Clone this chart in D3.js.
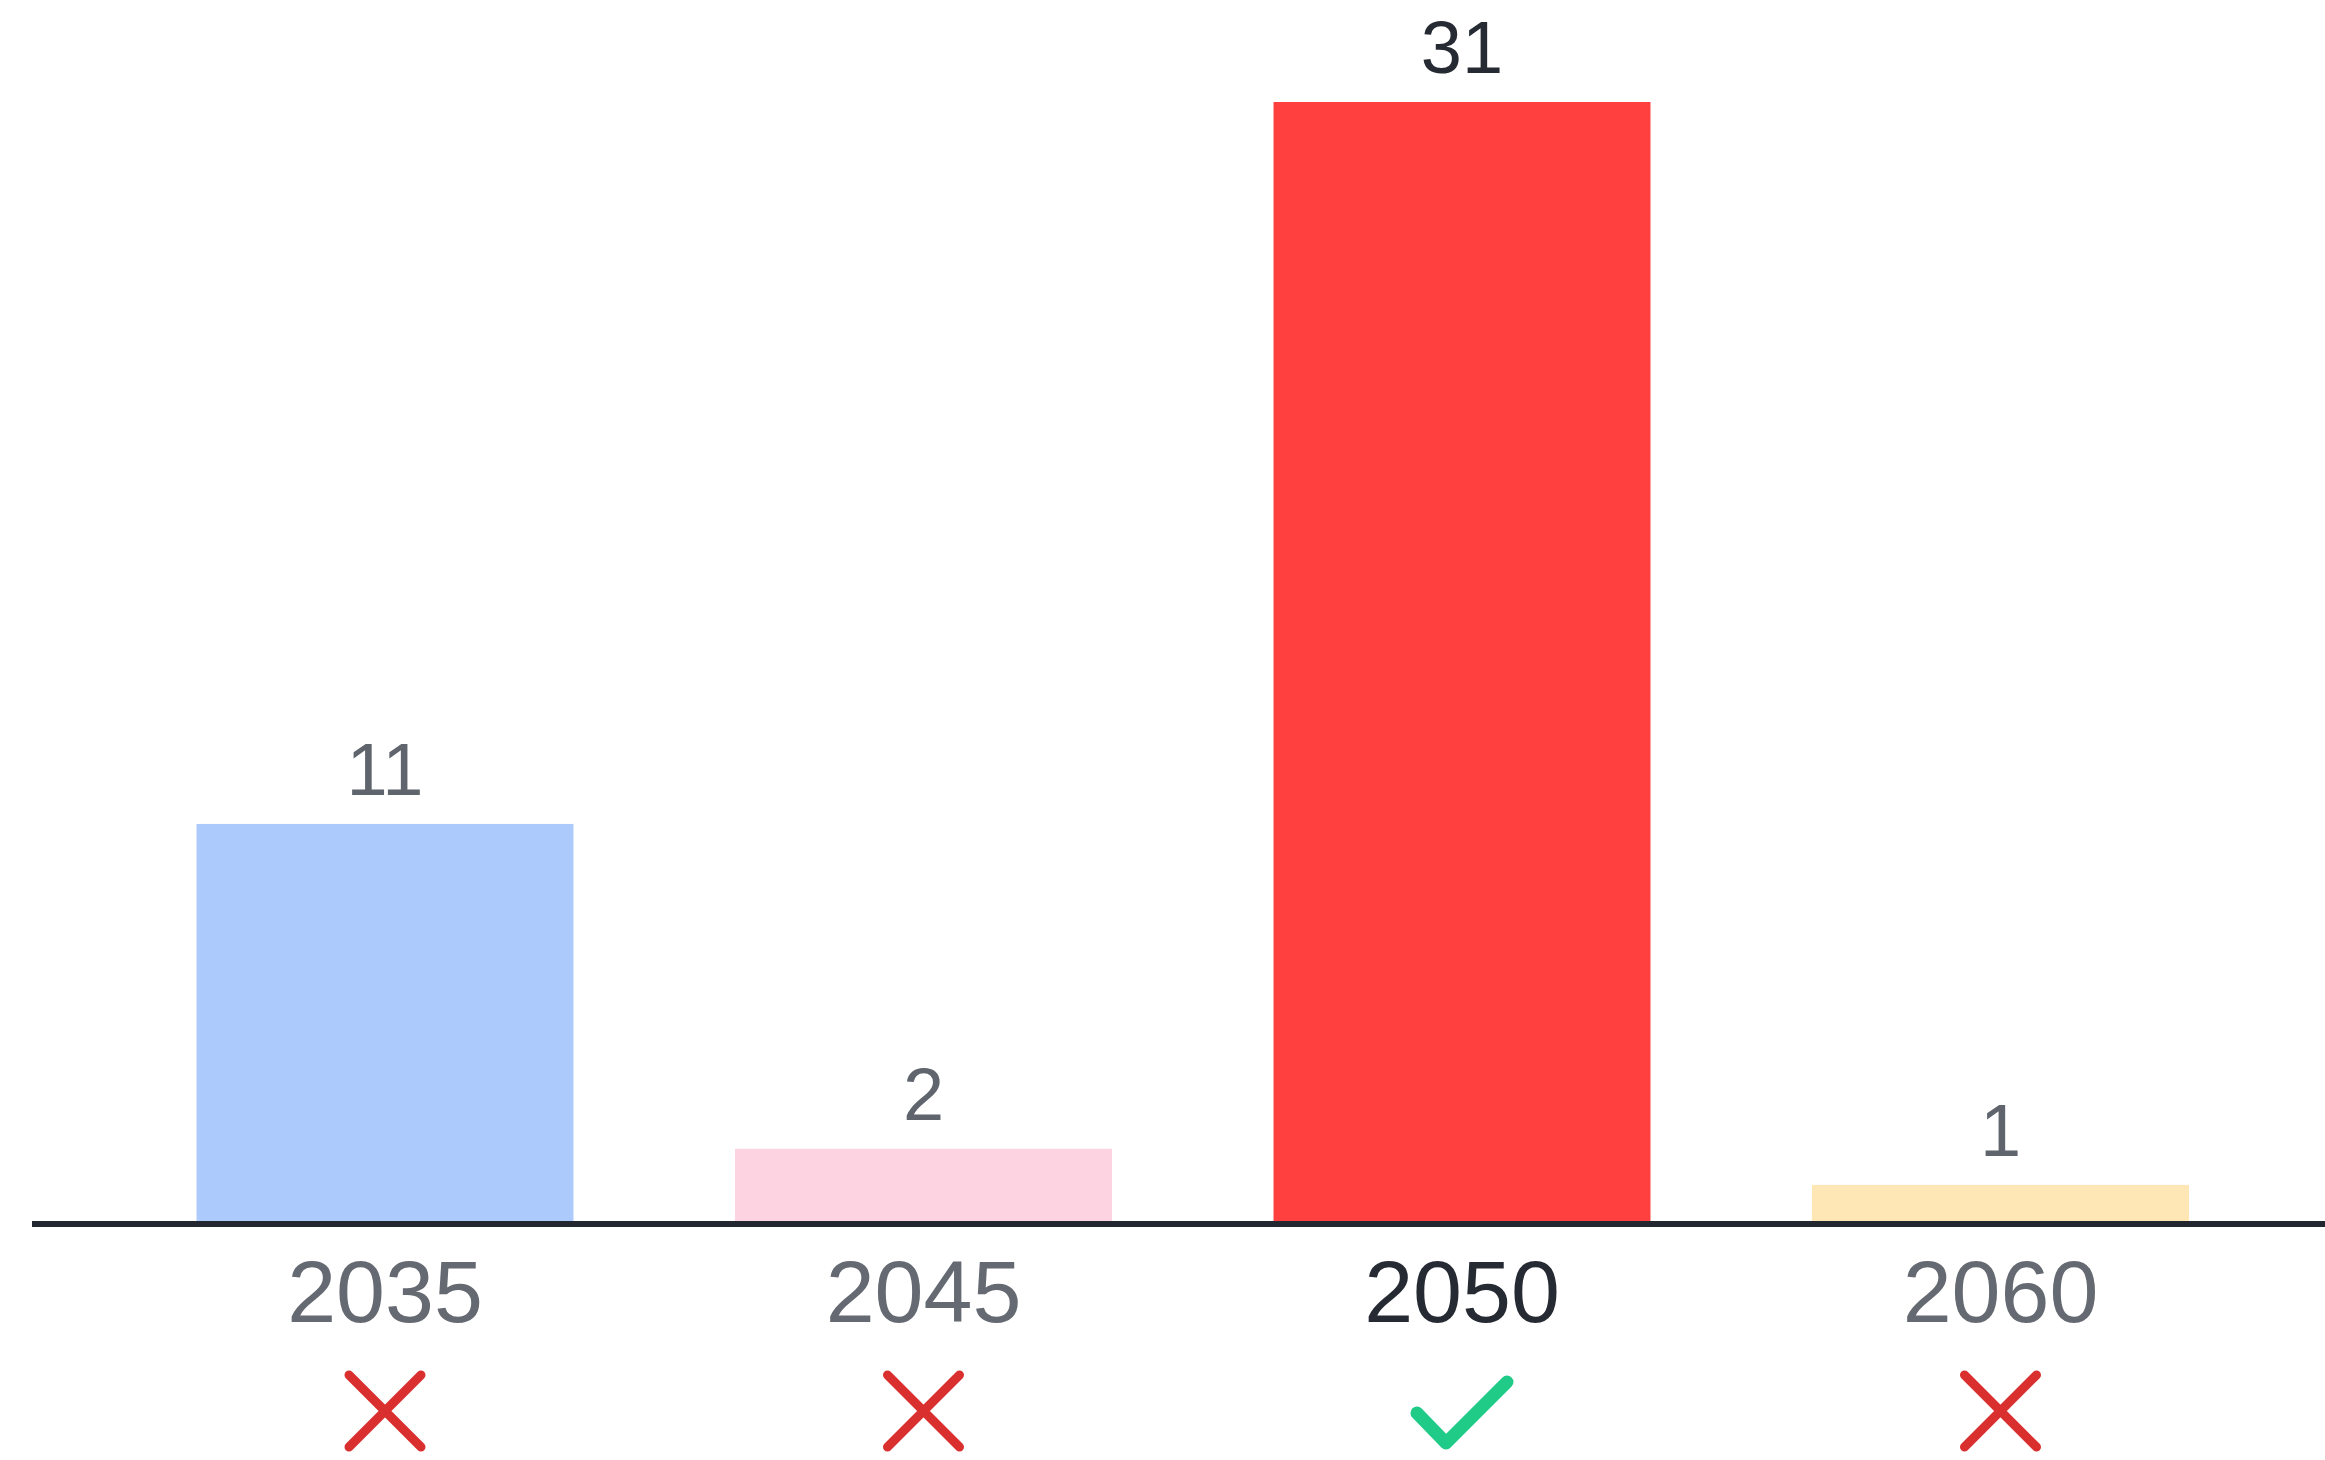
<!DOCTYPE html>
<html>
<head>
<meta charset="utf-8">
<script src="https://cdn.jsdelivr.net/npm/d3@7"></script>
<style>
  html, body { margin: 0; padding: 0; background: #fff; }
  svg { display: block; }
  text { font-family: "Liberation Sans", Arial, sans-serif; }
</style>
</head>
<body>
<div id="chart"></div>
<script>
    var years = ["2035", "2045", "2050", "2060"];
    var counts = [11, 2, 31, 1];
    var barColors = ["#adcafc", "#fdd2e1", "#ff403e", "#fee7b4"];
    var correct = [false, false, true, false];

    var width = 2325, height = 1460;
    var baseY = 1221;

    var data = years.map(function (y, i) {
      return { year: y, count: counts[i], color: barColors[i], ok: correct[i] };
    });

    var x = d3.scaleBand()
          .domain(years)
          .range([115.75, 2269.75])
          .paddingInner(0.3)
          .paddingOuter(0.15);
    var y = d3.scaleLinear()
          .domain([0, d3.max(counts)])
          .range([baseY, 102]);

    var svg = d3.select("#chart").append("svg")
      .attr("width", width)
      .attr("height", height);

    svg.selectAll(".bar")
      .data(data)
      .enter().append("rect")
      .attr("class", "bar")
      .attr("x", function (d) { return x(d.year); })
      .attr("width", x.bandwidth())
      .attr("y", function (d) { return y(d.count); })
      .attr("height", function (d) { return baseY - y(d.count); })
      .attr("fill", function (d) { return d.color; });

    // value labels above bars
    svg.selectAll(".val")
      .data(data)
      .enter().append("text")
      .attr("class", "val")
      .attr("x", function (d) { return x(d.year) + x.bandwidth() / 2; })
      .attr("y", function (d) { return y(d.count) - 29; })
      .attr("text-anchor", "middle")
      .style("font-size", "74px")
      .attr("fill", function (d) { return d.ok ? "#262a33" : "#5f646d"; })
      .text(function (d) { return d.count; });

    // x axis: just a thick baseline and the year labels
    var xAxis = d3.axisBottom(x).tickSize(0).tickPadding(0);
    var gx = svg.append("g")
      .attr("class", "x axis")
      .attr("transform", "translate(0," + (baseY + 3) + ")")
      .call(xAxis);
    gx.select(".domain").remove();
    gx.append("line")
      .attr("x1", 32).attr("x2", width)
      .attr("y1", 0).attr("y2", 0)
      .attr("stroke", "#23272f")
      .attr("stroke-width", 6);
    gx.selectAll(".tick text")
      .attr("y", 98)
      .attr("dy", 0)
      .style("font-size", "88px")
      .style("font-family", "'Liberation Sans', Arial, sans-serif")
      .attr("fill", function (d, i) { return correct[i] ? "#262a33" : "#656a72"; });

    // check / cross marks
    var marks = svg.selectAll(".mark")
      .data(data)
      .enter().append("g")
      .attr("class", "mark")
      .attr("transform", function (d) {
        return "translate(" + (x(d.year) + x.bandwidth() / 2) + ",1411)";
      });

    marks.filter(function (d) { return !d.ok; })
      .append("path")
      .attr("d", "M-36,-36L36,36M36,-36L-36,36")
      .attr("stroke", "#d9302f")
      .attr("stroke-width", 9)
      .attr("stroke-linecap", "round")
      .attr("fill", "none");

    marks.filter(function (d) { return d.ok; })
      .append("path")
      .attr("d", "M-45,2L-16,32L45,-29")
      .attr("stroke", "#1fcb86")
      .attr("stroke-width", 13)
      .attr("stroke-linecap", "round")
      .attr("stroke-linejoin", "round")
      .attr("fill", "none");
</script>
</body>
</html>
